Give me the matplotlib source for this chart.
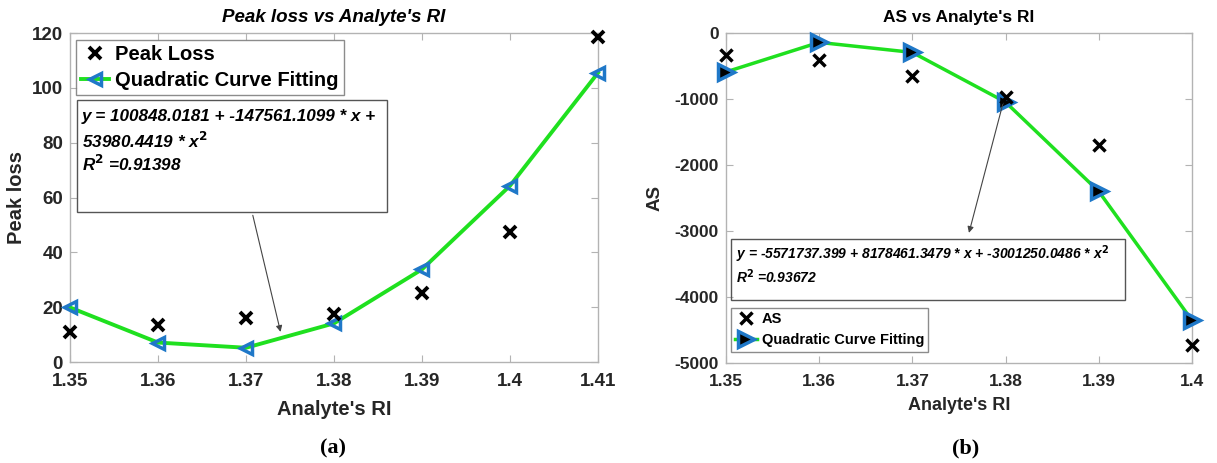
import matplotlib
matplotlib.use("Agg")
import matplotlib.pyplot as plt
from matplotlib.patches import Rectangle

plt.rcParams['font.family'] = ['Liberation Sans', 'DejaVu Sans']
plt.rcParams['font.weight'] = 'bold'
plt.rcParams['axes.unicode_minus'] = False

# (a) peak loss
ri_a = [1.35, 1.36, 1.37, 1.38, 1.39, 1.40, 1.41]
peak_loss = [11, 13.5, 16, 17.5, 25, 47.5, 118.5]
peak_fit = [19.9, 7.1, 5.2, 14.1, 33.8, 64.3, 105.5]

# (b) AS
ri_b = [1.35, 1.36, 1.37, 1.38, 1.39, 1.40]
as_vals = [-330, -410, -650, -970, -1700, -4730]
as_fit = [-590, -142, -294, -1047, -2400, -4353]

text_c = '#262626'
spine_c = '#b3b3b3'
green = '#1fe01f'
blue = '#1f78c8'

fig = plt.figure(figsize=(12.17, 4.63), dpi=100)
ax1 = fig.add_axes([0.0575, 0.2181, 0.4339, 0.7106])
ax2 = fig.add_axes([0.5965, 0.2160, 0.3829, 0.7127])


def style(ax, fs):
    for s in ax.spines.values():
        s.set_color(spine_c)
        s.set_linewidth(1.0)
    ax.tick_params(axis='both', direction='in', top=True, right=True, length=5,
                   color=spine_c, labelcolor=text_c, labelsize=fs)
    ax.tick_params(axis='x', pad=8)
    ax.tick_params(axis='y', pad=5)
    for t in ax.get_xticklabels() + ax.get_yticklabels():
        t.set_fontweight('bold')


# ---- left panel
ax1.plot(ri_a, peak_loss, 'x', color='black', ms=9, mew=2.8, clip_on=False,
         label='Peak Loss', zorder=4)
ax1.plot(ri_a, peak_fit, '-<', color=green, lw=2.8, ms=9, mfc='none', mec=blue,
         mew=2.5, clip_on=False, label='Quadratic Curve Fitting', zorder=3)
ax1.set_xlim(1.35, 1.41)
ax1.set_ylim(0, 120)
ax1.set_xticks(ri_a)
ax1.set_xticklabels(['1.35', '1.36', '1.37', '1.38', '1.39', '1.4', '1.41'])
ax1.set_yticks([0, 20, 40, 60, 80, 100, 120])
style(ax1, 13.5)
ax1.set_xlabel("Analyte's RI", fontsize=14.5, fontweight='bold', color=text_c, labelpad=7)
ax1.set_ylabel("Peak loss", fontsize=14.5, fontweight='bold', color=text_c, labelpad=4)
ax1.set_title("Peak loss vs Analyte's RI", fontsize=13.5, fontweight='bold',
              style='italic', color='black', pad=8)
leg1 = ax1.legend(loc='upper left', bbox_to_anchor=(0.011, 0.979), fontsize=14.5,
                  frameon=True, fancybox=False, borderpad=0.25, handlelength=1.4,
                  handletextpad=0.3, labelspacing=0.35, borderaxespad=0)
leg1.get_frame().set_edgecolor('#707070')
leg1.get_frame().set_linewidth(1.0)
for t in leg1.get_texts():
    t.set_fontweight('bold')

ax1.add_patch(Rectangle((0.0133, 0.4545), 0.587, 0.3425, transform=ax1.transAxes,
                        fill=False, ec='#555555', lw=1.0, zorder=5))
ax1.text(0.022, 0.745, "y = 100848.0181 + -147561.1099 * x +", transform=ax1.transAxes,
         fontsize=12.3, fontweight='bold', style='italic', color='black', va='center')
ax1.text(0.022, 0.672, "53980.4419 * x$^\\mathbf{2}$", transform=ax1.transAxes,
         fontsize=12.3, fontweight='bold', style='italic', color='black', va='center')
ax1.text(0.022, 0.602, "R$^\\mathbf{2}$ =0.91398", transform=ax1.transAxes,
         fontsize=12.3, fontweight='bold', style='italic', color='black', va='center')
ax1.annotate('', xy=(1.3740, 10.0), xytext=(1.3707, 54.5),
             arrowprops=dict(arrowstyle='-|>', color='#444444', lw=0.8,
                             mutation_scale=9))

# ---- right panel
ax2.plot(ri_b, as_vals, 'x', color='black', ms=9, mew=2.5, clip_on=False,
         label='AS', zorder=4)
ax2.plot(ri_b, as_fit, '->', color=green, lw=2.5, ms=11, mfc='black', mec=blue,
         mew=2.5, clip_on=False, label='Quadratic Curve Fitting', zorder=3)
ax2.set_xlim(1.35, 1.40)
ax2.set_ylim(-5000, 0)
ax2.set_xticks(ri_b)
ax2.set_xticklabels(['1.35', '1.36', '1.37', '1.38', '1.39', '1.4'])
ax2.set_yticks([-5000, -4000, -3000, -2000, -1000, 0])
style(ax2, 12.5)
ax2.set_xlabel("Analyte's RI", fontsize=13, fontweight='bold', color=text_c, labelpad=6)
ax2.set_ylabel("AS", fontsize=13.5, fontweight='bold', color=text_c, labelpad=8)
ax2.set_title("AS vs Analyte's RI", fontsize=12.5, fontweight='bold', color='black', pad=8)
leg2 = ax2.legend(loc='upper left', bbox_to_anchor=(0.0107, 0.1677), fontsize=10.5,
                  frameon=True, fancybox=False, borderpad=0.3, handlelength=1.5,
                  handletextpad=0.3, labelspacing=0.5, borderaxespad=0)
leg2.get_frame().set_edgecolor('#707070')
leg2.get_frame().set_linewidth(1.0)
for t in leg2.get_texts():
    t.set_fontweight('bold')

ax2.add_patch(Rectangle((0.0107, 0.1916), 0.8453, 0.1854, transform=ax2.transAxes,
                        fill=False, ec='#555555', lw=1.0, zorder=5))
ax2.text(0.022, 0.33, "y = -5571737.399 + 8178461.3479 * x + -3001250.0486 * x$^\\mathbf{2}$",
         transform=ax2.transAxes, fontsize=10, fontweight='bold', style='italic',
         color='black', va='center')
ax2.text(0.022, 0.262, "R$^\\mathbf{2}$ =0.93672", transform=ax2.transAxes,
         fontsize=10, fontweight='bold', style='italic', color='black', va='center')
ax2.annotate('', xy=(1.3760, -3069), xytext=(1.3799, -973),
             arrowprops=dict(arrowstyle='-|>', color='#444444', lw=0.8,
                             mutation_scale=9))

fig.text(0.274, 0.032, "(a)", fontsize=16, fontweight='bold', family='Liberation Serif',
         ha='center', va='center')
fig.text(0.7935, 0.032, "(b)", fontsize=16, fontweight='bold', family='Liberation Serif',
         ha='center', va='center')

fig.savefig('out.png', dpi=100)
